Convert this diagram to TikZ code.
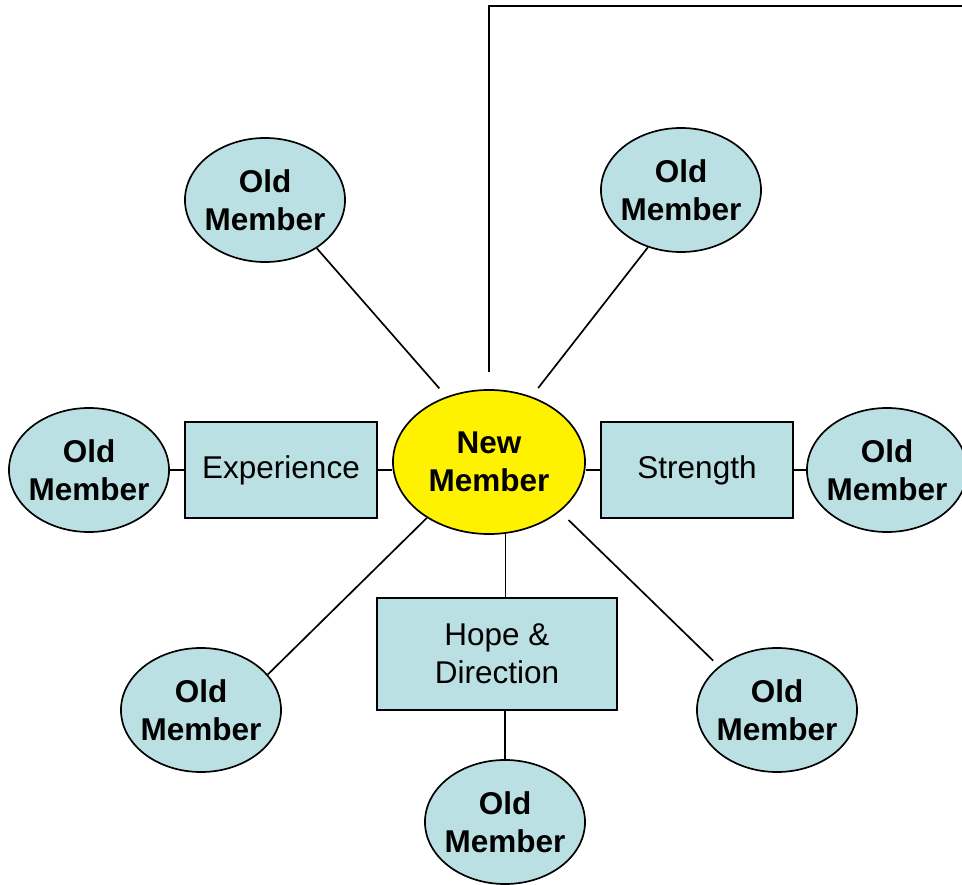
\documentclass[tikz,border=0pt]{standalone}
\usepackage{fontspec}
\setmainfont{Liberation Sans}
\usetikzlibrary{shapes.geometric}
\definecolor{memberblue}{RGB}{187,224,227}

\begin{document}
\begin{tikzpicture}[x=0.025cm,y=-0.025cm,line width=1.2pt]
  \tikzstyle{old}=[ellipse,draw,fill=memberblue,inner sep=-8pt,minimum width=4cm,minimum height=3.1cm,align=center,font=\fontsize{22.4}{27}\selectfont\bfseries]
  \tikzstyle{new}=[old,fill=yellow,minimum width=4.8cm,minimum height=3.6cm]
  \tikzstyle{box}=[rectangle,draw,fill=memberblue,minimum width=4.8cm,minimum height=2.4cm,align=center,font=\fontsize{22.4}{27}\selectfont]

    \useasboundingbox (0,0) rectangle (962,885);

    \node[new] (new) at (489,462) {New\\Member};

    \node[old] (ul) at (265,200) {Old\\Member};
    \node[old] (ur) at (681,190) {Old\\Member};
    \node[old] (left) at (89,470) {Old\\Member};
    \node[old] (right) at (887,470) {Old\\Member};
    \node[old] (ll) at (201,710) {Old\\Member};
    \node[old] (lr) at (777,710) {Old\\Member};
    \node[old] (bot) at (505,822) {Old\\Member};

    \node[box] (exp) at (281,470) {Experience};
    \node[box] (str) at (697,470) {Strength};
    \node[box, minimum width=6cm, minimum height=2.8cm] (hope) at (497,654) {Hope \&\\Direction};

    \draw (left) -- (exp);
    \draw (exp.east) -- (exp.east -| new.west);
    \draw (str.west) -- (str.west -| new.east);
    \draw (str) -- (right);
    \draw (new.-77) -- (new.-77 |- hope.north);
    \draw (bot.north) -- (bot.north |- hope.south);

    \draw[shorten >=0.27cm] (ul.-43) -- (new.123);
    \draw[shorten <=0.27cm] (new.57) -- (ur.240);
    \draw (new.222) -- (ll.28);
    \draw[shorten <=0.3cm, shorten >=0.2cm] (new.-35) -- (lr.143);

    \coordinate (topleft) at (489,6);
    \coordinate (topend) at (970,6);
    \draw[shorten <=0.44cm] (new.north) -- (topleft) -- (topend);

  \end{tikzpicture}
\end{document}
